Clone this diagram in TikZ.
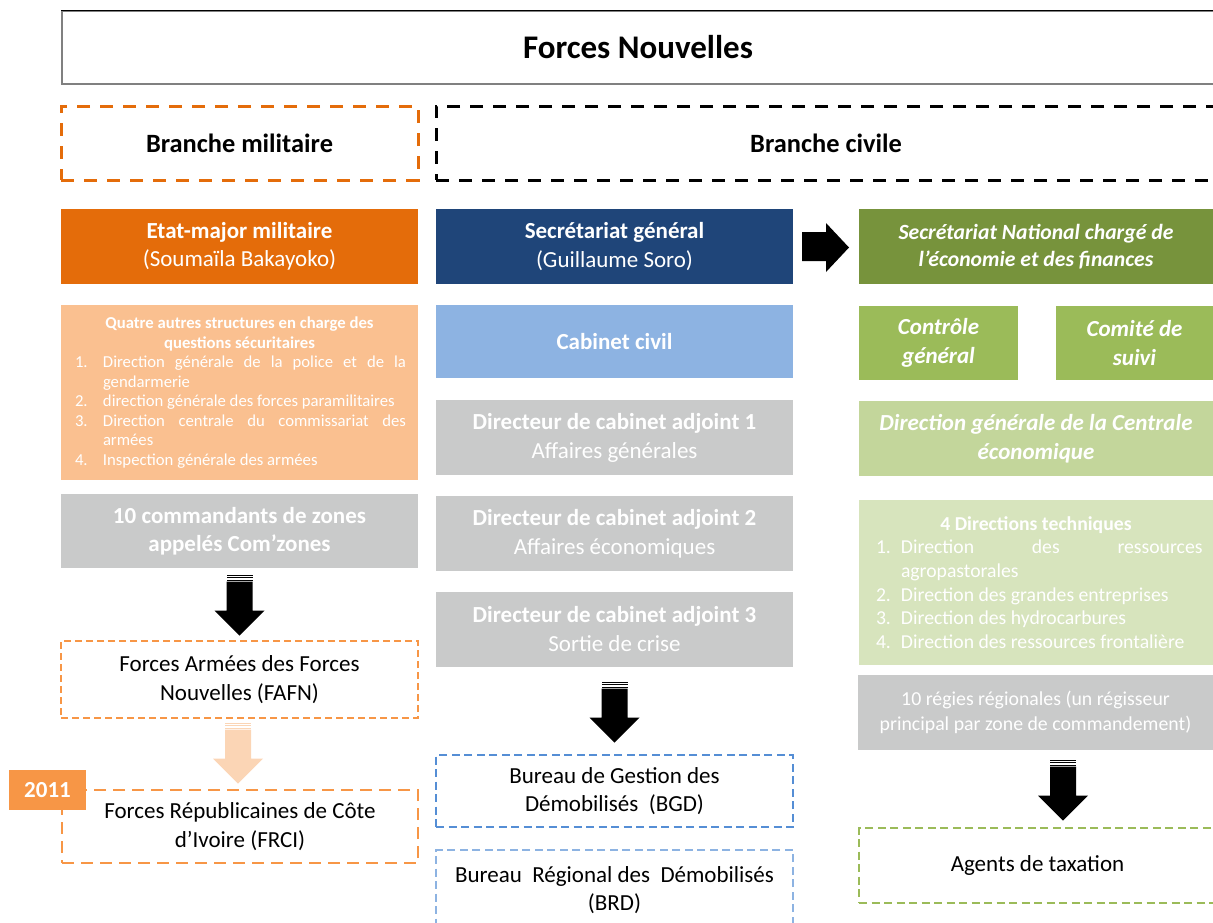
\documentclass[tikz,border=0pt]{standalone}
\usepackage{fontspec}
\setmainfont{Carlito}
\usetikzlibrary{calc}

\definecolor{orgdark}{HTML}{E46C0A}
\definecolor{orgmid}{HTML}{F79646}
\definecolor{orglight}{HTML}{FAC090}
\definecolor{orgpale}{HTML}{FBD5B5}
\definecolor{bluedark}{HTML}{1F4579}
\definecolor{bluemid}{HTML}{558ED5}
\definecolor{bluelight}{HTML}{8DB3E2}
\definecolor{greendark}{HTML}{77933C}
\definecolor{greenmid}{HTML}{9BBB59}
\definecolor{greenlight}{HTML}{C3D69B}
\definecolor{greenpale}{HTML}{D7E4BD}
\definecolor{grisbox}{HTML}{C9CACA}

\hyphenpenalty=10000
\exhyphenpenalty=10000

\newlength\itemind
\def\lstitem(#1)#2{\par\noindent\hangindent=\itemind\hangafter=1\makebox[\itemind][l]{#1}#2}
\def\stripearrow[#1](#2){%
	\begin{scope}[shift={(#2)}]
		\fill[#1] (-13,-61) rectangle (13,-59.8);
		\fill[#1] (-13,-58.6) rectangle (13,-57.4);
		\fill[#1] (-13,-56.2) rectangle (13,-55);
		\fill[#1] (-13,-54) -- (13,-54) -- (13,-25) -- (25,-25) -- (0,0) -- (-25,-25) -- (-13,-25) -- cycle;
	\end{scope}}

\tikzset{
	box/.style={inner sep=0pt, minimum width=357pt, minimum height=75pt, align=center, text=white, font=\fontsize{23}{28.5}\selectfont},
	boldbox/.style={box, font=\fontsize{23}{28.5}\bfseries\selectfont},
	itbox/.style={box, font=\fontsize{23}{28.5}\bfseries\itshape\selectfont},
	dashbox/.style={box, text=black, draw=#1, line width=2.6pt, dash pattern=on 8pt off 4.5pt},
	branchbox/.style={box, text=black, draw=#1, line width=3pt, dash pattern=on 13pt off 10pt, minimum height=74pt, font=\fontsize{26.4}{30}\bfseries\selectfont},
	listbox/.style={inner xsep=12pt, inner ysep=0pt, minimum width=357pt, text width=333pt, align=justify, text=white},
}

\begin{document}
\begin{tikzpicture}[x=1pt, y=-1pt]
			%%%%% START %%%%%
			\useasboundingbox (0,0) rectangle (1213,922);
			\clip (0,0) rectangle (1213,922);
			
			\node[draw=black!50, line width=1.6pt, minimum width=1152pt, minimum height=73pt, font=\fontsize{33}{38}\bfseries\selectfont] (titlebox) at (638,47.5) {Forces Nouvelles};
			\draw[line width=1pt] (titlebox.north west) -- (titlebox.north east);
			
			\node[branchbox=orgdark] (milbranch) at (239.5,143) {Branche militaire};
			\node[branchbox=black, minimum width=780pt] (civbranch) at (826,143) {Branche civile};
			
			%%%%% branche militaire %%%%%
			\node[box, fill=orgdark] (etatmajor) at (239.5,246.5) {{\bfseries Etat-major militaire}\\(Soumaïla Bakayoko)};
			\node[listbox, fill=orglight, minimum height=175pt, font=\fontsize{16.7}{19.5}\selectfont] (quatre) at (239.5,392.5) {\itemind=28pt\leftskip=2pt
				{\centering\bfseries Quatre autres structures en charge des\\questions sécuritaires\par}
				\lstitem(1.){Direction générale de la police et de la\linebreak gendarmerie}
				\lstitem(2.){direction générale des forces paramilitaires}
				\lstitem(3.){Direction centrale du commissariat des\linebreak armées}
				\lstitem(4.){Inspection générale des armées}\par};
			\node[boldbox, fill=grisbox, minimum height=74pt] (comzones) at (239.5,531) {10 commandants de zones\\appelés Com’zones};
			\node[dashbox=orgmid, minimum height=77pt, dash pattern=on 7pt off 4pt] (fafn) at (239.5,679.5) {Forces Armées des Forces\\Nouvelles (FAFN)};
			\node[dashbox=orgmid, minimum width=356pt, minimum height=73pt, dash pattern=on 12pt off 7pt] (frci) at (240,826.5) {Forces Républicaines de Côte\\d’Ivoire (FRCI)};
			\node[boldbox, fill=orgmid, minimum width=77pt, minimum height=40pt] (year) at (47.5,790) {2011};
			
			%%%%% branche civile %%%%%
			\node[box, fill=bluedark] (secgen) at (614.5,246.5) {{\bfseries Secrétariat général}\\(Guillaume Soro)};
			\node[boldbox, fill=bluelight, minimum height=73pt] (cabinet) at (614.5,341.5) {Cabinet civil};
			\node[box, fill=grisbox, font=\fontsize{23}{29}\selectfont] (adj1) at (614.5,437.5) {{\bfseries Directeur de cabinet adjoint 1}\\Affaires générales};
			\node[box, fill=grisbox, font=\fontsize{23}{29}\selectfont] (adj2) at (614.5,533.5) {{\bfseries Directeur de cabinet adjoint 2}\\Affaires économiques};
			\node[box, fill=grisbox, font=\fontsize{23}{29}\selectfont] (adj3) at (614.5,629.5) {{\bfseries Directeur de cabinet adjoint 3}\\Sortie de crise};
			\node[dashbox=bluemid, minimum height=72pt] (bgd) at (614.5,791) {Bureau de Gestion des\\Démobilisés~ (BGD)};
			\node[dashbox=bluelight, minimum height=80pt] (brd) at (614.5,890) {Bureau~ Régional des~ Démobilisés\\(BRD)};
			
			%%%%% economie et finances %%%%%
			\node[itbox, fill=greendark, minimum width=354pt, font=\fontsize{21.7}{27}\bfseries\itshape\selectfont] (secnat) at (1036,246.5) {Secrétariat National chargé de\\l’économie et des finances};
			\node[itbox, fill=greenmid, minimum width=159pt, minimum height=74pt] (controle) at (938.5,343) {Contrôle\\général};
			\node[itbox, fill=greenmid, minimum width=157pt, minimum height=74pt] (comite) at (1134.5,343) {Comité de\\suivi};
			\node[itbox, fill=greenlight, minimum width=354pt] (centrale) at (1036,438.5) {Direction générale de la Centrale\\économique};
			\node[listbox, fill=greenpale, minimum width=354pt, minimum height=165pt, inner xsep=10.5pt, font=\fontsize{19.7}{23.7}\selectfont] (dirtech) at (1036,582.5) {\itemind=25pt\leftskip=6.5pt
				{\centering\bfseries 4 Directions techniques\par}
				\lstitem(1.){Direction des ressources\linebreak agropastorales}
				\lstitem(2.){Direction des grandes entreprises}
				\lstitem(3.){Direction des hydrocarbures}
				\lstitem(4.){Direction des ressources frontalière}\par};
			\node[box, fill=grisbox, minimum width=355pt, font=\fontsize{19.8}{25}\selectfont] (regies) at (1035.5,712) {10 régies régionales (un régisseur\\principal par zone de commandement)};
			\node[dashbox=greenmid, minimum height=75pt] (agents) at (1037.5,865.5) {Agents de taxation};
			
			%%%%% fleches %%%%%
			\fill (802,232) -- (826,232) -- (826,223) -- (849,247.5) -- (826,272) -- (826,261) -- (802,261) -- cycle;
			
			\coordinate (tipfafn) at ($(fafn.north)+(0,-4)$);
			\coordinate (tipfrci) at ($(frci.north)+(-2,-5)$);
			\coordinate (tipbgd) at ($(bgd.north)+(0,-11)$);
			\coordinate (tipagents) at ($(agents.north)+(25.5,-6)$);
			\stripearrow[black](tipfafn)
			\stripearrow[orgpale](tipfrci)
			\stripearrow[black](tipbgd)
			\stripearrow[black](tipagents)
			
			%%%%% END %%%%%
\end{tikzpicture}
\end{document}
